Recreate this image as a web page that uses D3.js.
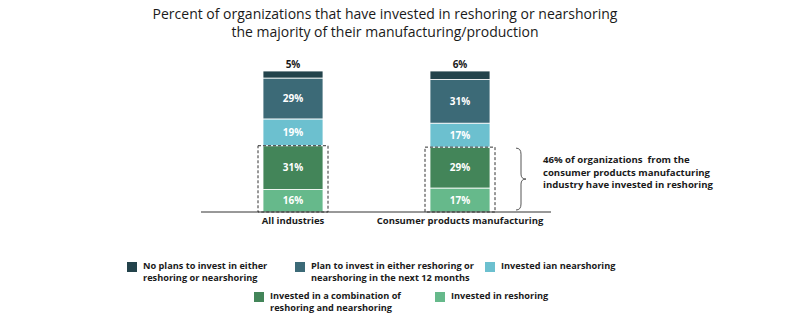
<!DOCTYPE html>
<html>
<head>
<meta charset="utf-8">
<script src="https://cdn.jsdelivr.net/npm/d3@7"></script>
<style>
  body { margin: 0; background: #fff; }
  text { font-family: "Open Sans", "Noto Sans", sans-serif; }
</style>
</head>
<body>
<div id="chart-area"></div>
<script>
// data
var categories = ["All industries", "Consumer products manufacturing"];
var seriesKeys = ["reshoring", "combination", "nearshoring", "plan", "noPlans"];
var reshoring   = [16, 17];
var combination = [31, 29];
var nearshoring = [19, 17];
var plan        = [29, 31];
var noPlans     = [5, 6];
var legendLabels = [
    ["No plans to invest in either", "reshoring or nearshoring"],
    ["Plan to invest in either reshoring or", "nearshoring in the next 12 months"],
    ["Invested ian nearshoring"],
    ["Invested in a combination of", "reshoring and nearshoring"],
    ["Invested in reshoring"]
];
var legendKeys = ["noPlans", "plan", "nearshoring", "combination", "reshoring"];
var annotation = ["46% of organizations  from the", "consumer products manufacturing", "industry have invested in reshoring"];

var color = {
    noPlans: "#23434b",
    plan: "#3c6a77",
    nearshoring: "#6cc0cf",
    combination: "#438559",
    reshoring: "#66b98b"
};

var width = 800, height = 331;
var svg = d3.select("#chart-area").append("svg")
    .attr("width", width)
    .attr("height", height);

// title
svg.append("text")
    .attr("x", 385).attr("y", 19)
    .attr("text-anchor", "middle")
    .attr("font-size", "14px")
    .attr("fill", "#1a1a1a")
    .text("Percent of organizations that have invested in reshoring or nearshoring");
svg.append("text")
    .attr("x", 385).attr("y", 37)
    .attr("text-anchor", "middle")
    .attr("font-size", "14px")
    .attr("fill", "#1a1a1a")
    .text("the majority of their manufacturing/production");

// scales
var x = d3.scalePoint().domain(categories).range([293, 460]);
var y = d3.scaleLinear().domain([0, 100]).range([212, 71]);
var barW = 60;

var table = categories.map(function(c, i) {
    return {
        category: c,
        reshoring: reshoring[i],
        combination: combination[i],
        nearshoring: nearshoring[i],
        plan: plan[i],
        noPlans: noPlans[i]
    };
});
var stacked = d3.stack().keys(seriesKeys)(table);

var layers = svg.selectAll("g.layer").data(stacked).enter()
    .append("g")
    .attr("class", "layer")
    .attr("fill", function(d) { return color[d.key]; });

layers.selectAll("rect").data(function(d) { return d; }).enter()
    .append("rect")
    .attr("x", function(d) { return x(d.data.category) - barW / 2; })
    .attr("y", function(d) { return y(d[1]); })
    .attr("width", barW)
    .attr("height", function(d) { return y(d[0]) - y(d[1]); })
    .attr("stroke", "#fff")
    .attr("stroke-width", 0.8);

// value labels
layers.each(function(layer) {
    var g = d3.select(this);
    g.selectAll("text").data(layer).enter()
        .append("text")
        .attr("x", function(d) { return x(d.data.category); })
        .attr("y", function(d) {
            if (layer.key === "noPlans") return y(d[1]) - 3;
            return (y(d[0]) + y(d[1])) / 2 + 3.5;
        })
        .attr("text-anchor", "middle")
        .attr("font-size", "10px")
        .attr("font-weight", "bold")
        .attr("fill", layer.key === "noPlans" ? "#1a1a1a" : "#fff")
        .text(function(d) { return (d[1] - d[0]) + "%"; });
});

// dashed boxes around reshoring + combination
svg.selectAll("rect.box").data(stacked[1]).enter()
    .append("rect")
    .attr("class", "box")
    .attr("x", function(d) { return x(d.data.category) - barW / 2 - 5; })
    .attr("y", function(d) { return y(d[1]); })
    .attr("width", barW + 10)
    .attr("height", function(d) { return y(0) - y(d[1]); })
    .attr("fill", "none")
    .attr("stroke", "#333")
    .attr("stroke-width", 1)
    .attr("stroke-dasharray", "3,2");

// baseline
svg.append("line")
    .attr("x1", 201).attr("x2", 551)
    .attr("y1", y(0)).attr("y2", y(0))
    .attr("stroke", "#333")
    .attr("stroke-width", 1);

// category labels
svg.selectAll("text.cat").data(categories).enter()
    .append("text")
    .attr("class", "cat")
    .attr("x", function(d) { return x(d); })
    .attr("y", 224)
    .attr("text-anchor", "middle")
    .attr("font-size", "9.5px")
    .attr("font-weight", "bold")
    .attr("fill", "#1a1a1a")
    .text(function(d) { return d; });

// brace
var bTop = y(stacked[1][1][1]) + 1, bBot = y(0) - 2, bMid = (bTop + bBot) / 2;
var bx = 516;
svg.append("path")
    .attr("d", "M" + bx + "," + bTop +
        " Q" + (bx + 5) + "," + bTop + " " + (bx + 5) + "," + (bTop + 6) +
        " L" + (bx + 5) + "," + (bMid - 5) +
        " Q" + (bx + 5) + "," + bMid + " " + (bx + 10) + "," + bMid +
        " Q" + (bx + 5) + "," + bMid + " " + (bx + 5) + "," + (bMid + 5) +
        " L" + (bx + 5) + "," + (bBot - 6) +
        " Q" + (bx + 5) + "," + bBot + " " + bx + "," + bBot)
    .attr("fill", "none")
    .attr("stroke", "#555")
    .attr("stroke-width", 1);

svg.selectAll("text.note").data(annotation).enter()
    .append("text")
    .attr("class", "note")
    .attr("x", 543)
    .attr("y", function(d, i) { return 163 + i * 12.5; })
    .attr("font-size", "9.6px")
    .attr("font-weight", "bold")
    .attr("fill", "#1a1a1a")
    .style("white-space", "pre")
    .text(function(d) { return d; });

// legend
var legendPos = [[127, 262], [295, 262], [485, 262], [254, 292], [435, 292]];
legendKeys.forEach(function(k, i) {
    var row = svg.append("g")
        .attr("transform", "translate(" + legendPos[i][0] + "," + legendPos[i][1] + ")");
    row.append("rect")
        .attr("width", 10).attr("height", 10)
        .attr("fill", color[k]);
    legendLabels[i].forEach(function(line, j) {
        row.append("text")
            .attr("x", 16)
            .attr("y", 7 + j * 11.5)
            .attr("font-size", "9.2px")
            .attr("font-weight", "bold")
            .attr("fill", "#1a1a1a")
            .text(line);
    });
});
</script>
</body>
</html>
